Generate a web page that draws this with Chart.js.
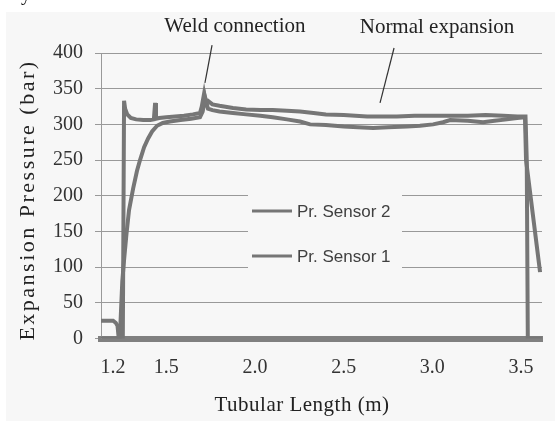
<!DOCTYPE html>
<html>
<head>
<meta charset="utf-8">
<script src="https://cdn.jsdelivr.net/npm/chart.js@4.4.1/dist/chart.umd.min.js"></script>
<style>
  html, body { margin: 0; padding: 0; background: #fff; }
</style>
</head>
<body>
<canvas id="myChart" width="555" height="421"></canvas>
<script>
// values
const xTicks = [1.2, 1.5, 2.0, 2.5, 3.0, 3.5];
const yTicks = [0, 50, 100, 150, 200, 250, 300, 350, 400];
const seriesNames = ['Pr. Sensor 2', 'Pr. Sensor 1'];

// Pr. Sensor 2 - quick jump, spikes, drops straight to 0 at the end
const sensor2Len = [1.132, 1.20, 1.215, 1.225, 1.232, 1.255, 1.262, 1.268, 1.28, 1.30, 1.33, 1.37, 1.41, 1.43, 1.437, 1.442,
    1.46, 1.50, 1.55, 1.60, 1.65, 1.69, 1.70, 1.713, 1.722, 1.735, 1.76, 1.80, 1.876, 1.95, 2.03, 2.10, 2.18, 2.254,
    2.33, 2.40, 2.50, 2.632, 2.72, 2.80, 2.90, 3.004, 3.10, 3.20, 3.30, 3.40, 3.48, 3.525, 3.532, 3.538, 3.618];
const sensor2Pr = [25, 25, 22, 18, 0, 0, 333, 322, 314, 309, 307, 306, 306, 307, 330, 308,
    309, 310, 311, 312, 314, 316, 325, 343, 330, 333, 328, 326, 323, 321, 320, 320, 319, 318,
    316, 314, 313, 311, 311, 311, 312, 312, 312, 312, 313, 312, 311, 311, 250, 0, 0];

// Pr. Sensor 1 - slow rise, slanted drop at the end
const sensor1Len = [1.132, 1.238, 1.245, 1.252, 1.262, 1.275, 1.29, 1.313, 1.335, 1.352, 1.375, 1.397, 1.42, 1.448, 1.48,
    1.52, 1.58, 1.64, 1.69, 1.705, 1.72, 1.735, 1.76, 1.80, 1.876, 1.95, 2.03, 2.10, 2.18, 2.254, 2.311, 2.40, 2.50,
    2.58, 2.666, 2.75, 2.857, 2.93, 3.004, 3.06, 3.10, 3.20, 3.286, 3.35, 3.42, 3.477, 3.522, 3.528, 3.607];
const sensor1Pr = [0, 0, 40, 80, 110, 145, 180, 210, 235, 250, 268, 280, 290, 298, 302,
    304, 306, 308, 310, 318, 337, 322, 320, 318, 316, 314, 312, 310, 307, 304, 300, 299, 297,
    296, 295, 296, 297, 298, 300, 303, 306, 305, 303, 305, 307, 309, 310, 250, 93];

// annotations: text anchor and pointer ends, in data units
const notes = [
    { text: 'Weld connection', at: [1.887, 437], from: [1.758, 411], to: [1.718, 358] },
    { text: 'Normal expansion', at: [3.026, 436], from: [2.784, 407], to: [2.705, 330] }
];

const lineColor = '#767676';
const serif = '"Liberation Serif", "Times New Roman", serif';

const paperPlugin = {
    id: 'paper',
    beforeDraw(chart) {
        const ctx = chart.ctx;
        ctx.save();
        ctx.fillStyle = '#ffffff';
        ctx.fillRect(0, 0, chart.width, chart.height);
        ctx.fillStyle = '#f7f7f7';
        ctx.fillRect(6, 12, chart.width - 6, chart.height - 12);
        // caption line of the page above, cut off
        ctx.fillStyle = '#111';
        ctx.font = '20px ' + serif;
        ctx.textBaseline = 'alphabetic';
        ctx.fillText('day.', 2, 0);
        ctx.restore();
    },
    afterDraw(chart) {
        const ctx = chart.ctx;
        const xs = chart.scales.x, ys = chart.scales.y;
        ctx.save();

        // legend box inside the plot
        ctx.fillStyle = '#f7f7f7';
        ctx.fillRect(248, 178, 154, 105);
        ctx.font = '17px "Liberation Sans", Arial, sans-serif';
        ctx.textBaseline = 'middle';
        ctx.textAlign = 'left';
        chart.data.datasets.forEach((ds, i) => {
            const y = 211 + i * 45;
            ctx.strokeStyle = ds.borderColor;
            ctx.lineWidth = 3;
            ctx.beginPath();
            ctx.moveTo(252, y);
            ctx.lineTo(292, y);
            ctx.stroke();
            ctx.fillStyle = '#404040';
            ctx.fillText(ds.label, 297, y + 1);
        });

        // notes with pointers
        ctx.font = '21px ' + serif;
        ctx.textAlign = 'center';
        ctx.fillStyle = '#222';
        ctx.strokeStyle = '#333';
        ctx.lineWidth = 1.2;
        notes.forEach(n => {
            ctx.fillText(n.text, xs.getPixelForValue(n.at[0]), ys.getPixelForValue(n.at[1]));
            ctx.beginPath();
            ctx.moveTo(xs.getPixelForValue(n.from[0]), ys.getPixelForValue(n.from[1]));
            ctx.lineTo(xs.getPixelForValue(n.to[0]), ys.getPixelForValue(n.to[1]));
            ctx.stroke();
        });

        // axis titles
        ctx.fillStyle = '#222';
        ctx.font = '21px ' + serif;
        ctx.letterSpacing = '0.5px';
        ctx.fillText('Tubular Length (m)', 302, 405);
        ctx.translate(28, 200);
        ctx.rotate(-Math.PI / 2);
        ctx.font = '22px ' + serif;
        ctx.letterSpacing = '2.5px';
        ctx.fillText('Expansion Pressure (bar)', 0, 0);
        ctx.restore();
    }
};

const config = {
    type: 'line',
    data: {
        datasets: [
            {
                label: seriesNames[0],
                data: sensor2Len.map((x, i) => ({ x: x, y: sensor2Pr[i] })),
                borderColor: lineColor,
                borderWidth: 4,
                pointRadius: 0,
                tension: 0,
                fill: false
            },
            {
                label: seriesNames[1],
                data: sensor1Len.map((x, i) => ({ x: x, y: sensor1Pr[i] })),
                borderColor: lineColor,
                borderWidth: 4,
                pointRadius: 0,
                tension: 0,
                fill: false
            }
        ]
    },
    options: {
        responsive: false,
        animation: false,
        devicePixelRatio: 1,
        layout: { padding: { left: 6, top: 53, right: 13, bottom: 0 } },
        plugins: {
            legend: { display: false },
            tooltip: { enabled: false }
        },
        scales: {
            x: {
                type: 'linear',
                min: 1.132,
                max: 3.618,
                afterBuildTicks: (scale) => { scale.ticks = xTicks.map(v => ({ value: v })); },
                afterFit: (scale) => { scale.height = 82.5; },
                ticks: {
                    autoSkip: false,
                    maxRotation: 0,
                    padding: 17,
                    color: '#333',
                    font: { family: serif, size: 20 },
                    callback: (value) => value.toFixed(1)
                },
                grid: { display: false, drawTicks: false },
                border: { display: true, color: '#808080', width: 6 }
            },
            y: {
                min: 0,
                max: 400,
                afterBuildTicks: (scale) => { scale.ticks = yTicks.map(v => ({ value: v })); },
                afterFit: (scale) => { scale.width = 95; },
                ticks: {
                    padding: 12,
                    color: '#333',
                    font: { family: serif, size: 20 }
                },
                grid: { color: '#999', lineWidth: 1, tickLength: 6 },
                border: { display: true, color: '#999', width: 1 }
            }
        }
    },
    plugins: [paperPlugin]
};

const myChart = new Chart(document.getElementById('myChart'), config);
</script>
</body>
</html>
